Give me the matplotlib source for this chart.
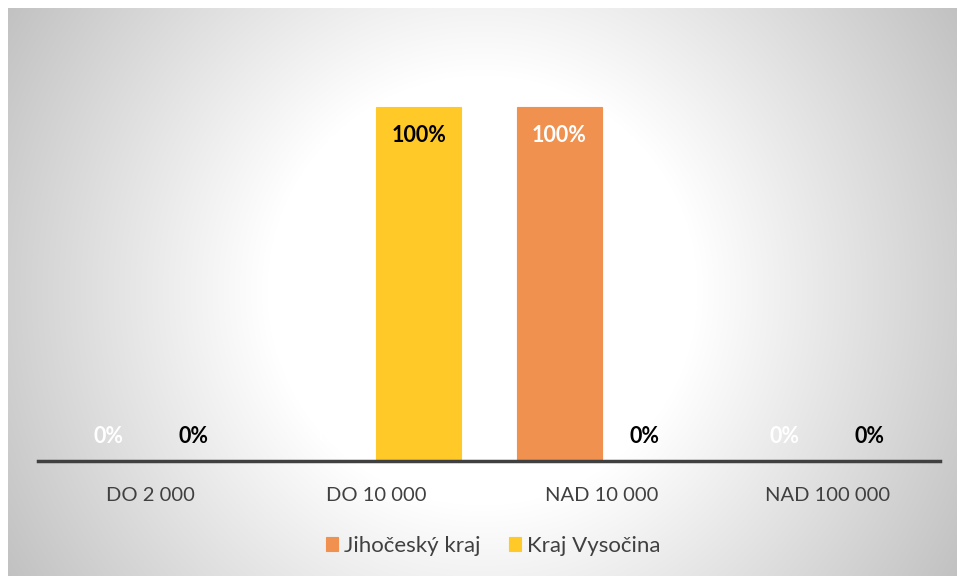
import numpy as np
import matplotlib.pyplot as plt

categories = ["DO 2 000", "DO 10 000", "NAD 10 000", "NAD 100 000"]
series_names = ["Jihočeský kraj", "Kraj Vysočina"]
jihocesky = [0, 0, 1.0, 0]
vysocina = [0, 1.0, 0, 0]

colors = ["#F0914F", "#FFC928"]
label_colors = ["white", "black"]

plt.rcParams['font.family'] = ['Lato', 'DejaVu Sans']

W, H = 957, 576
fig = plt.figure(figsize=(W / 100, H / 100), dpi=100)
fig.patch.set_facecolor("white")

# radial gradient background
bg = fig.add_axes([8 / W, 0, 1 - 8 / W, 1 - 8 / H], zorder=-10)
yy, xx = np.mgrid[8:H, 8:W]
r = np.sqrt((xx - 482.0) ** 2 + (yy - 290.0) ** 2)
g = 1.0 - 0.24 * np.clip((r - 215) / (551 - 215), 0, 1)
img = np.dstack([g, g, g])
bg.imshow(img, aspect="auto", interpolation="bilinear")
bg.axis("off")

ax = fig.add_axes([38 / W, 1 - 461 / H, 902 / W, (461 - 36) / H])
ax.set_facecolor("none")

x = np.arange(len(categories))
w = 0.377
for i, (vals, name) in enumerate(zip([jihocesky, vysocina], series_names)):
    pos = x + (i - 0.5) * w
    ax.bar(pos, vals, width=w, color=colors[i], edgecolor=colors[i], linewidth=0.8, label=name, zorder=2)
    for p, v in zip(pos, vals):
        if v > 0:
            ax.text(p, v - 0.08, "{:.0f}%".format(v * 100), ha="center", va="center",
                    fontsize=15.5, fontweight="bold", color=label_colors[i], zorder=3)
        else:
            ax.text(p, 0.07, "{:.0f}%".format(v * 100), ha="center", va="center",
                    fontsize=15.5, fontweight="bold", color=label_colors[i], zorder=3)

ax.set_xlim(-0.5, len(categories) - 0.5)
ax.set_ylim(0, 1.2)
ax.set_yticks([])
ax.set_xticks(x)
ax.set_xticklabels(categories, fontsize=14.5, color="#404040")
ax.tick_params(axis="x", length=0, pad=19)
for s in ["top", "right", "left"]:
    ax.spines[s].set_visible(False)
ax.spines["bottom"].set_color("#404040")
ax.spines["bottom"].set_linewidth(2.5)
ax.spines["bottom"].set_zorder(4)

leg = fig.legend(loc="center", bbox_to_anchor=(493 / W, 1 - 546 / H), ncol=2, frameon=False,
                 fontsize=16, handlelength=0.55, handleheight=0.55, handletextpad=0.25,
                 columnspacing=1.3, labelcolor="#404040")

fig.savefig("out.png", dpi=100)
